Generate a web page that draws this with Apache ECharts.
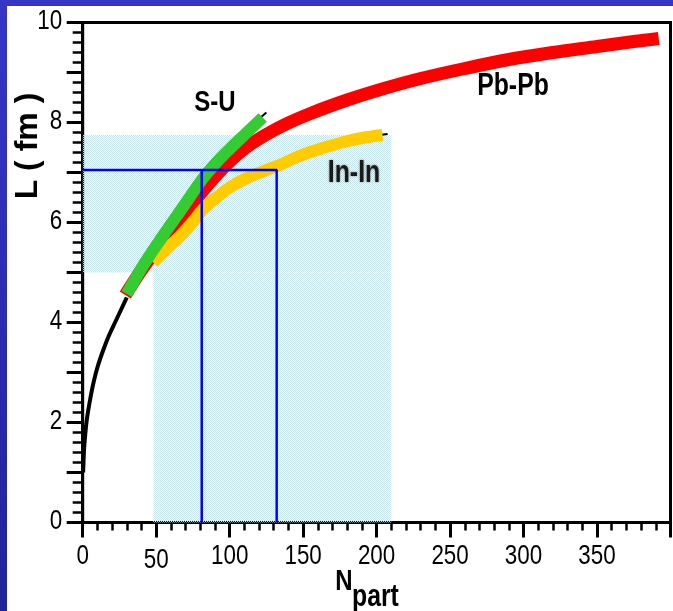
<!DOCTYPE html>
<html>
<head>
<meta charset="utf-8">
<script src="https://cdn.jsdelivr.net/npm/echarts@6/dist/echarts.min.js"></script>
<style>
  html, body { margin: 0; padding: 0; width: 673px; height: 611px; overflow: hidden;
    background: linear-gradient(to bottom, #3535c6, #22229a); }
  #paper { position: absolute; left: 7px; top: 6px; right: 0; bottom: 0; background: #fff; }
  #chart { position: absolute; left: 0; top: 0; width: 673px; height: 611px; }
</style>
</head>
<body>
<div id="paper"></div>
<div id="chart"></div>
<script>
// Interaction length L (fm) versus number of participants N_part
const theoryN = [0.3, 0.6, 1, 2, 3, 5, 7, 10, 14, 18, 22, 26, 30];
const theoryL = [1.0, 1.25, 1.5, 1.85, 2.1, 2.45, 2.75, 3.1, 3.45, 3.75, 4.0, 4.25, 4.5];

const pbpbN = [29, 40, 55, 70, 85, 100, 115, 135, 155, 180, 205, 230, 260, 290, 320, 350, 375, 392];
const pbpbL = [4.55, 5.05, 5.65, 6.2, 6.75, 7.22, 7.58, 7.92, 8.18, 8.45, 8.68, 8.88, 9.08, 9.26, 9.4, 9.52, 9.62, 9.68];

const suN = [30, 42, 55, 68, 81, 91, 100, 111, 122.5];
const suL = [4.57, 5.18, 5.75, 6.3, 6.85, 7.2, 7.47, 7.78, 8.1];

const ininN = [48, 57, 66, 74, 82, 91, 100, 111, 122.5, 134, 145, 156, 168, 179, 190, 204];
const ininL = [5.2, 5.47, 5.72, 5.98, 6.27, 6.5, 6.7, 6.88, 7.02, 7.15, 7.3, 7.42, 7.53, 7.62, 7.69, 7.75];

// thin calculated line peeking out past the ends of the S-U and In-In bands
const suTailN = [121, 125];
const suTailL = [8.1, 8.2];
const ininTailN = [202, 207.5];
const ininTailL = [7.75, 7.77];

// Reference level and the two N_part values where it crosses S-U and In-In
const levelL = 7.05;
const suCrossN = 81;
const ininCrossN = 132;

// Shaded bands: [[xFrom, yFrom], [xTo, yTo]]
const bandUpper = [[0, 5.0], [210, 7.75]];
const bandLower = [[48, 0], [210, 5.0]];

const xLabelValues = [0, 50, 100, 150, 200, 250, 300, 350];
const yLabelValues = [0, 2, 4, 6, 8, 10];

const SANS = '"Liberation Sans", Arial, Helvetica, sans-serif';
const NARROW_SCALE = 0.8;

const zip = (xs, ys) => xs.map((x, i) => [x, ys[i]]);

function stipple() {
  const c = document.createElement('canvas');
  c.width = 2; c.height = 2;
  const g = c.getContext('2d');
  g.fillStyle = '#c6e5eb';
  g.fillRect(0, 0, 1, 1);
  g.fillRect(1, 1, 1, 1);
  return c;
}

const chart = echarts.init(document.getElementById('chart'), null, { renderer: 'canvas' });

const curve = (data, color, width, z) => ({
  type: 'line', data, symbol: 'none', smooth: 0.35, z, silent: true,
  lineStyle: { color, width, cap: 'butt', join: 'round' }
});

// condensed lettering, as on the figure
const narrowText = (x, y, text, size, opts = {}) => ({
  type: 'text', x, y, z: 20, scaleX: NARROW_SCALE, silent: true,
  style: Object.assign({
    text, fill: '#000', fontSize: size, fontFamily: SANS, fontWeight: 'bold',
    align: 'center', verticalAlign: 'middle', textAlign: 'center', textVerticalAlign: 'middle'
  }, opts)
});

const titles = [
  { type: 'text', x: 28, y: 146, rotation: Math.PI / 2, z: 20, silent: true,
    style: { text: 'L ( fm )', fill: '#000', fontSize: 32, fontWeight: 'bold', fontFamily: SANS,
      align: 'center', verticalAlign: 'middle', textAlign: 'center', textVerticalAlign: 'middle' } },
  narrowText(352.5, 582, 'N', 30, { align: 'right', textAlign: 'right' }),
  narrowText(352, 597, 'part', 31, { align: 'left', textAlign: 'left' }),
  narrowText(215, 103, 'S-U', 30),
  narrowText(513, 86, 'Pb-Pb', 31),
  narrowText(354, 173, 'In-In', 31, { fill: '#1a1a1a', textShadowColor: 'rgba(110,110,110,0.8)', textShadowBlur: 3 })
];

chart.setOption({
  animation: false,
  backgroundColor: 'transparent',
  grid: {
    left: 82.7, right: 2.5, top: 22.5, bottom: 88.5,
    containLabel: false, outerBoundsMode: 'none',
    show: true, borderColor: '#000', borderWidth: 3, backgroundColor: 'transparent'
  },
  xAxis: {
    type: 'value', min: 0, max: 400, interval: 50,
    axisLine: { show: true, onZero: false, lineStyle: { color: '#000', width: 3 } },
    axisTick: { show: true, inside: false, length: 15, lineStyle: { color: '#000', width: 3 } },
    minorTick: { show: true, splitNumber: 5, length: 8, lineStyle: { color: '#000', width: 2.5 } },
    splitLine: { show: false }, minorSplitLine: { show: false },
    axisLabel: { show: false }
  },
  yAxis: {
    type: 'value', min: 0, max: 10, interval: 1,
    axisLine: { show: true, onZero: false, lineStyle: { color: '#000', width: 3 } },
    axisTick: { show: true, inside: false, length: 16, lineStyle: { color: '#000', width: 3 } },
    minorTick: { show: true, splitNumber: 5, length: 10, lineStyle: { color: '#000', width: 2.5 } },
    splitLine: { show: false }, minorSplitLine: { show: false },
    axisLabel: { show: false }
  },
  series: [
    curve(zip(theoryN, theoryL), '#000000', 4, 2),
    curve(zip(suTailN, suTailL), '#000000', 2, 2),
    curve(zip(ininTailN, ininTailL), '#000000', 2, 2),
    curve(zip(pbpbN, pbpbL), '#ff0000', 13, 3),
    curve(zip(ininN, ininL), '#ffcc00', 12, 4),
    curve(zip(suN, suL), '#33cc33', 12, 5),
    {
      type: 'line', data: [], z: 8, silent: true,
      markArea: {
        silent: true,
        itemStyle: { color: { image: stipple(), repeat: 'repeat' }, borderWidth: 0 },
        data: [
          [{ coord: bandUpper[0] }, { coord: bandUpper[1] }],
          [{ coord: bandLower[0] }, { coord: bandLower[1] }]
        ]
      }
    },
    {
      type: 'line', z: 9, silent: true, symbol: 'none',
      data: [[0, levelL], [ininCrossN, levelL], [ininCrossN, 0]],
      lineStyle: { color: '#0000ff', width: 2.5 }
    },
    {
      type: 'line', z: 9, silent: true, symbol: 'none',
      data: [[suCrossN, levelL], [suCrossN, 0]],
      lineStyle: { color: '#0000ff', width: 2.5 }
    }
  ],
  graphic: titles
});

// Tick labels in the condensed face, placed through the axes' own scales
const tickLabels = [];
xLabelValues.forEach(v => {
  const p = chart.convertToPixel({ gridIndex: 0 }, [v, 0]);
  tickLabels.push({
    type: 'text', x: p[0], y: p[1] + 34 + (v === 50 ? 4 : 0), z: 20, scaleX: NARROW_SCALE, silent: true,
    style: { text: String(v), fill: '#000', fontSize: 28, fontFamily: SANS,
      align: 'center', verticalAlign: 'middle', textAlign: 'center', textVerticalAlign: 'middle' }
  });
});
yLabelValues.forEach(v => {
  const p = chart.convertToPixel({ gridIndex: 0 }, [0, v]);
  tickLabels.push({
    type: 'text', x: p[0] - 20.5, y: p[1] - 1, z: 20, scaleX: NARROW_SCALE, silent: true,
    style: { text: String(v), fill: '#000', fontSize: 28, fontFamily: SANS,
      align: 'right', verticalAlign: 'middle', textAlign: 'right', textVerticalAlign: 'middle' }
  });
});
chart.setOption({ graphic: titles.concat(tickLabels) }, { replaceMerge: ['graphic'] });
</script>
</body>
</html>
